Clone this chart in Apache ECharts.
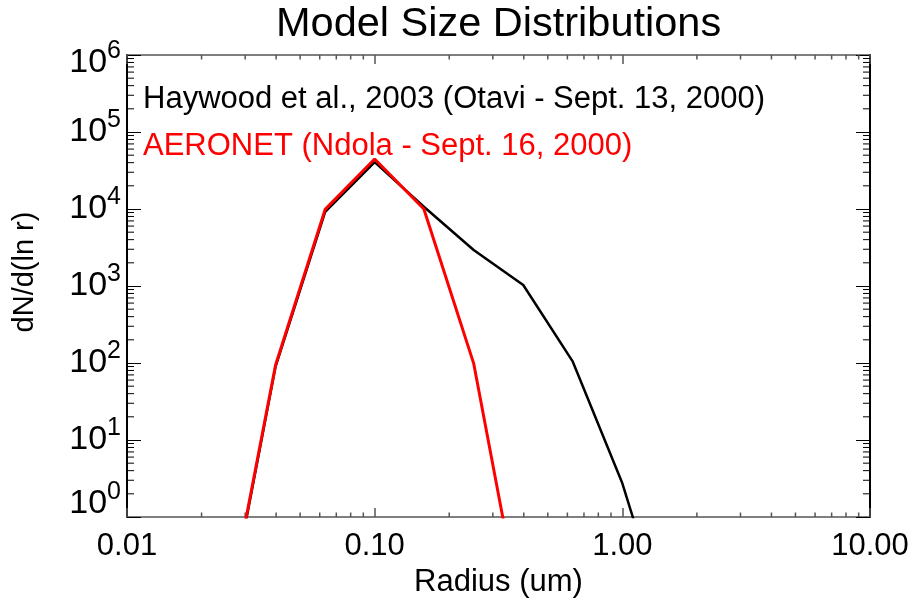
<!DOCTYPE html>
<html>
<head>
<meta charset="utf-8">
<title>Model Size Distributions</title>
<script src="https://cdn.jsdelivr.net/npm/echarts@6/dist/echarts.min.js"></script>
<style>
  html, body { margin: 0; padding: 0; background: #fff; }
  #chart { width: 917px; height: 600px; }
</style>
</head>
<body>
<div id="chart"></div>
<script>
// Radius grid (um), log-spaced
const radius = [0.0251, 0.0398, 0.0631, 0.1, 0.158, 0.251, 0.398, 0.631, 1.0, 1.585];
// Haywood et al., 2003 size distribution, dN/d(ln r)
const haywood = [0.039, 90, 9200, 40700, 10700, 2940, 1030, 104, 2.74, 0.023];
// AERONET retrieval, dN/d(ln r)
const aeronetRadius = [0.0251, 0.0398, 0.0631, 0.1, 0.158, 0.251, 0.398];
const aeronet = [0.043, 94, 9900, 44600, 10000, 99, 0.039];

// Minor tick values for the log axes
const radiusMinorTicks = [];
for (const d of [0.01, 0.1, 1]) for (let k = 2; k <= 9; k++) radiusMinorTicks.push(k * d);
const dndlnrMinorTicks = [];
for (const d of [1, 10, 100, 1e3, 1e4, 1e5]) for (let k = 2; k <= 9; k++) dndlnrMinorTicks.push(k * d);

const legendLines = [
  { text: 'Haywood et al., 2003 (Otavi - Sept. 13, 2000)', color: '#000000' },
  { text: 'AERONET (Ndola - Sept. 16, 2000)', color: '#ff0000' }
];

const FONT = 'Liberation Sans, Arial, Helvetica, sans-serif';

function pairs(xs, ys) { return xs.map((x, i) => [x, ys[i]]); }

// "10" with a raised exponent; the end labels are nudged inward
const supRich = {
  b:  { fontSize: 34, height: 48, fontFamily: FONT, color: '#000' },
  s:  { fontSize: 25, height: 24, padding: [0, 0, 24, 0], fontFamily: FONT, color: '#000' },
  b0: { fontSize: 34, height: 48, padding: [0, 0, 26, 0], fontFamily: FONT, color: '#000' },
  s0: { fontSize: 25, height: 24, padding: [0, 0, 50, 0], fontFamily: FONT, color: '#000' },
  bT: { fontSize: 34, height: 48, padding: [16, 0, 0, 0], fontFamily: FONT, color: '#000' },
  sT: { fontSize: 25, height: 24, padding: [16, 0, 24, 0], fontFamily: FONT, color: '#000' }
};

function powerLabel(v) {
  const e = Math.round(Math.log10(v));
  if (e === 0) return '{b0|10}{s0|' + e + '}';
  if (e === 6) return '{bT|10}{sT|' + e + '}';
  return '{b|10}{s|' + e + '}';
}

const xAxisBase = {
  type: 'log', logBase: 10, min: 0.01, max: 10,
  axisLine: { show: true, onZero: false, lineStyle: { color: '#555', width: 1.5 } },
  axisTick: { show: true, inside: true, length: 9, lineStyle: { color: '#555', width: 1.5 } },
  splitLine: { show: false },
  minorTick: { show: false }
};
const yAxisBase = {
  type: 'log', logBase: 10, min: 1, max: 1e6,
  axisLine: { show: true, onZero: false, lineStyle: { color: '#000', width: 2 } },
  axisTick: { show: true, inside: true, length: 14, lineStyle: { color: '#000', width: 1 } },
  splitLine: { show: false },
  minorTick: { show: false }
};

function xMinorTicks(params, api) {
  const cs = params.coordSys;
  const x = api.coord([api.value(0), 1])[0];
  const top = cs.y, bottom = cs.y + cs.height;
  const st = { stroke: '#555', lineWidth: 1.5 };
  return { type: 'group', children: [
    { type: 'line', shape: { x1: x, y1: bottom, x2: x, y2: bottom - 4.5 }, style: st },
    { type: 'line', shape: { x1: x, y1: top, x2: x, y2: top + 4.5 }, style: st }
  ]};
}
function yMinorTicks(params, api) {
  const cs = params.coordSys;
  const y = api.coord([0.01, api.value(1)])[1];
  const left = cs.x, right = cs.x + cs.width;
  const st = { stroke: '#000', lineWidth: 1 };
  return { type: 'group', children: [
    { type: 'line', shape: { x1: left, y1: y, x2: left + 7, y2: y }, style: st },
    { type: 'line', shape: { x1: right, y1: y, x2: right - 7, y2: y }, style: st }
  ]};
}

const chart = echarts.init(document.getElementById('chart'), null, { renderer: 'canvas' });

chart.setOption({
  backgroundColor: '#ffffff',
  animation: false,
  textStyle: { fontFamily: FONT },
  title: [
    {
      text: 'Model Size Distributions', left: 276, top: 4, padding: 0,
      textStyle: { fontFamily: FONT, fontSize: 41.5, fontWeight: 'normal', color: '#000' }
    }
  ].concat(legendLines.map((l, i) => ({
    text: l.text, left: 143, top: 84 + i * 47, padding: 0,
    textStyle: { fontFamily: FONT, fontSize: 31, fontWeight: 'normal', color: l.color }
  }))),
  grid: { left: 127, right: 47, top: 55, bottom: 83, containLabel: false, outerBoundsMode: 'none' },
  xAxis: [
    Object.assign({}, xAxisBase, {
      position: 'bottom',
      name: 'Radius (um)', nameLocation: 'middle', nameGap: 48,
      nameTextStyle: { fontFamily: FONT, fontSize: 31, color: '#000' },
      axisLabel: {
        margin: 14, fontFamily: FONT, fontSize: 31, color: '#000',
        formatter: v => Number(v).toFixed(2)
      }
    }),
    Object.assign({}, xAxisBase, { position: 'top', axisLabel: { show: false } })
  ],
  yAxis: [
    Object.assign({}, yAxisBase, {
      position: 'left',
      name: 'dN/d(ln r)', nameLocation: 'middle', nameGap: 88,
      nameTextStyle: { fontFamily: FONT, fontSize: 29, color: '#000', padding: [0, 0, 0, 28] },
      axisLabel: { margin: 6, formatter: powerLabel, rich: supRich }
    }),
    Object.assign({}, yAxisBase, { position: 'right', axisLabel: { show: false } })
  ],
  series: [
    {
      type: 'custom', name: 'xminor', silent: true, z: 1,
      xAxisIndex: 0, yAxisIndex: 0,
      renderItem: xMinorTicks,
      data: radiusMinorTicks.map(v => [v, 1])
    },
    {
      type: 'custom', name: 'yminor', silent: true, z: 1,
      xAxisIndex: 0, yAxisIndex: 0,
      renderItem: yMinorTicks,
      data: dndlnrMinorTicks.map(v => [0.01, v])
    },
    {
      type: 'line', name: 'Haywood', z: 3,
      data: pairs(radius, haywood),
      showSymbol: false, symbol: 'none', clip: true,
      lineStyle: { color: '#000', width: 2.5 }
    },
    {
      type: 'line', name: 'AERONET', z: 4,
      data: pairs(aeronetRadius, aeronet),
      showSymbol: false, symbol: 'none', clip: true,
      lineStyle: { color: '#ff0000', width: 3 }
    }
  ]
});
</script>
</body>
</html>
